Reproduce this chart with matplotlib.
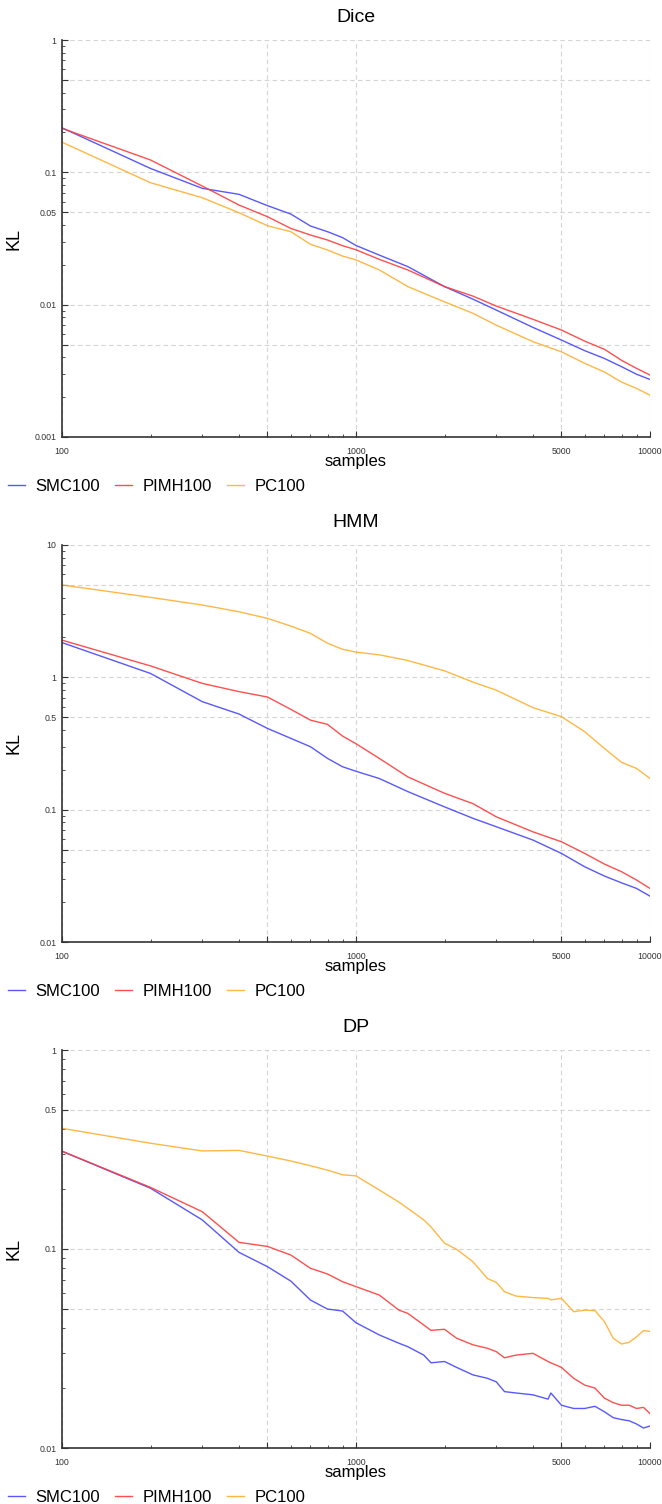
import matplotlib
matplotlib.use("Agg")
import matplotlib.pyplot as plt
from matplotlib.ticker import FixedLocator, FixedFormatter, NullFormatter

plt.rcParams['font.family'] = ['Liberation Sans', 'DejaVu Sans']

series_names = ["SMC100", "PIMH100", "PC100"]
colors = ["#4646ff", "#ff3c3c", "#ffb030"]

# ---- Dice ----
dice_x = [100, 200, 300, 400, 500, 600, 700, 800, 900, 1000, 1200, 1500, 2000,
          2500, 3000, 4000, 5000, 6000, 7000, 8000, 9000, 10000]
dice_smc = [0.217, 0.107, 0.0757, 0.0682, 0.056, 0.0484, 0.0393, 0.0356, 0.0321, 0.028,
            0.0237, 0.0194, 0.0137, 0.011, 0.0091, 0.00673, 0.0054, 0.00449, 0.00392,
            0.0034, 0.00298, 0.00272]
dice_pimh = [0.215, 0.124, 0.0788, 0.0566, 0.0462, 0.0377, 0.0336, 0.0308, 0.0279, 0.026,
             0.022, 0.0183, 0.0137, 0.0116, 0.00976, 0.00775, 0.00643, 0.0053, 0.0046,
             0.0038, 0.0033, 0.00294]
dice_pc = [0.169, 0.0835, 0.0643, 0.0495, 0.0395, 0.0356, 0.0286, 0.0259, 0.0233, 0.0218,
           0.0183, 0.0137, 0.0105, 0.0086, 0.0070, 0.00525, 0.0044, 0.0036, 0.0031,
           0.0026, 0.00233, 0.00207]

# ---- HMM ----
hmm_x = [100, 200, 300, 400, 500, 600, 700, 800, 900, 1000, 1200, 1500, 2000,
         2500, 3000, 4000, 5000, 6000, 7000, 8000, 9000, 10000]
hmm_smc = [1.83, 1.07, 0.655, 0.528, 0.411, 0.346, 0.299, 0.244, 0.211, 0.195, 0.172,
           0.137, 0.105, 0.086, 0.0743, 0.0589, 0.0467, 0.037, 0.0315, 0.028, 0.0254, 0.0222]
hmm_pimh = [1.91, 1.22, 0.90, 0.78, 0.71, 0.573, 0.475, 0.441, 0.36, 0.315, 0.244, 0.177,
            0.133, 0.111, 0.0883, 0.068, 0.0572, 0.0467, 0.0388, 0.034, 0.0294, 0.0254]
hmm_pc = [4.99, 4.02, 3.52, 3.13, 2.79, 2.44, 2.15, 1.81, 1.63, 1.55, 1.48, 1.34, 1.12,
          0.92, 0.80, 0.59, 0.504, 0.388, 0.29, 0.228, 0.205, 0.172]

# ---- DP ----
dp_x = [100, 200, 300, 400, 500, 600, 700, 800, 900, 1000, 1200, 1400, 1500, 1700, 1800,
        2000, 2200, 2500, 2800, 3000, 3200, 3500, 4000, 4500, 4600, 5000, 5500, 6000,
        6500, 7000, 7500, 8000, 8500, 9000, 9500, 10000]
dp_smc = [0.31, 0.202, 0.14, 0.0962, 0.0815, 0.069, 0.0554, 0.0499, 0.0488, 0.0426, 0.037,
          0.0336, 0.0323, 0.0293, 0.0268, 0.0272, 0.0254, 0.0233, 0.0224, 0.0215, 0.0192,
          0.0189, 0.0185, 0.0176, 0.0189, 0.0164, 0.0158, 0.0158, 0.0162, 0.0152, 0.0142,
          0.0139, 0.0137, 0.0132, 0.0126, 0.0129]
dp_pimh = [0.31, 0.204, 0.154, 0.108, 0.103, 0.0933, 0.080, 0.0749, 0.0685, 0.0647, 0.0587,
           0.0493, 0.0475, 0.0415, 0.039, 0.0395, 0.0356, 0.033, 0.0317, 0.0305, 0.0284,
           0.0293, 0.0299, 0.0272, 0.0268, 0.0254, 0.0224, 0.0207, 0.020, 0.0178, 0.0169,
           0.0164, 0.0164, 0.0158, 0.016, 0.0149]
dp_pc = [0.404, 0.34, 0.311, 0.313, 0.293, 0.277, 0.262, 0.249, 0.236, 0.233, 0.198, 0.172,
         0.160, 0.14, 0.129, 0.107, 0.0996, 0.0863, 0.071, 0.068, 0.061, 0.058, 0.057,
         0.0565, 0.0555, 0.0565, 0.0484, 0.0493, 0.049, 0.0431, 0.0356, 0.0333, 0.034,
         0.0362, 0.0389, 0.0385]

x_ticks = [100, 500, 1000, 5000, 10000]
x_ticklabels = ["100", "", "1000", "5000", "10000"]

panels = [
    dict(title="Dice", x=dice_x, ys=[dice_smc, dice_pimh, dice_pc], ylim=(0.001, 1),
         yticks=[0.001, 0.005, 0.01, 0.05, 0.1, 0.5, 1],
         ylabels=["0.001", "", "0.01", "0.05", "0.1", "", "1"], top=40, bottom=437),
    dict(title="HMM", x=hmm_x, ys=[hmm_smc, hmm_pimh, hmm_pc], ylim=(0.01, 10),
         yticks=[0.01, 0.05, 0.1, 0.5, 1, 5, 10],
         ylabels=["0.01", "", "0.1", "0.5", "1", "", "10"], top=545, bottom=942),
    dict(title="DP", x=dp_x, ys=[dp_smc, dp_pimh, dp_pc], ylim=(0.01, 1),
         yticks=[0.01, 0.05, 0.1, 0.5, 1],
         ylabels=["0.01", "", "0.1", "0.5", "1"], top=1050, bottom=1448),
]

W, H = 662, 1504
fig = plt.figure(figsize=(W / 100, H / 100), dpi=100)

def minor_vals(lo, hi):
    vals = []
    d = 1e-4
    while d < hi * 10:
        for k in range(2, 10):
            v = k * d
            if lo < v < hi:
                vals.append(v)
        d *= 10
    return vals

for p in panels:
    left, right = 62, 650
    ax = fig.add_axes([left / W, 1 - p["bottom"] / H, (right - left) / W,
                       (p["bottom"] - p["top"]) / H])
    for ys, c, n in zip(p["ys"], colors, series_names):
        ax.plot(p["x"], ys, color=c, lw=1.0, label=n, alpha=0.9)
    ax.set_xscale("log")
    ax.set_yscale("log")
    ax.set_xlim(100, 10000)
    ax.set_ylim(*p["ylim"])
    ax.xaxis.set_major_locator(FixedLocator(x_ticks))
    ax.xaxis.set_major_formatter(FixedFormatter(x_ticklabels))
    ax.xaxis.set_minor_locator(FixedLocator(minor_vals(100, 10000)))
    ax.xaxis.set_minor_formatter(NullFormatter())
    ax.yaxis.set_major_locator(FixedLocator(p["yticks"]))
    ax.yaxis.set_major_formatter(FixedFormatter(p["ylabels"]))
    ax.yaxis.set_minor_locator(FixedLocator(minor_vals(*p["ylim"])))
    ax.yaxis.set_minor_formatter(NullFormatter())
    ax.tick_params(which="major", direction="in", length=4, width=0.8, color="#333333",
                   labelsize=6.3, labelcolor="#333333")
    ax.tick_params(which="minor", direction="in", length=2.5, width=0.6, color="#333333")
    ax.tick_params(axis="x", which="major", pad=7)
    ax.tick_params(axis="y", which="major", pad=4)
    ax.grid(True, which="major", color="#d4d4d4", linestyle=(0, (4, 3)), lw=0.8)
    for s in ["top", "right"]:
        ax.spines[s].set_visible(False)
    for s in ["left", "bottom"]:
        ax.spines[s].set_color("#333333")
        ax.spines[s].set_linewidth(1.2)
    ax.set_axisbelow(True)
    ax.set_title(p["title"], fontsize=14, pad=13)
    ax.set_xlabel("samples", fontsize=12)
    ax.xaxis.set_label_coords(0.5, -0.043)
    ax.set_ylabel("KL", fontsize=13)
    ax.yaxis.set_label_coords(-0.068, 0.5)
    ax.legend(loc="center left", bbox_to_anchor=(-0.092, -0.125), ncol=3, frameon=False,
              fontsize=12, handlelength=1.0, handletextpad=0.65, columnspacing=0.9,
              borderaxespad=0, borderpad=0)

fig.savefig("out.png", dpi=100)
